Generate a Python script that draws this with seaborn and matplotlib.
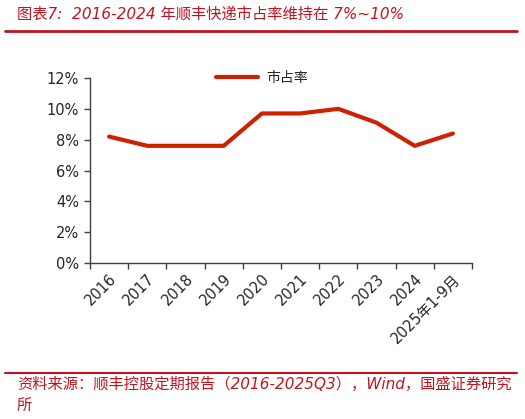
import matplotlib
matplotlib.use("Agg")
import matplotlib.pyplot as plt
from matplotlib.lines import Line2D
from matplotlib.ticker import FixedLocator, PercentFormatter
import pandas as pd
import seaborn as sns

# Datos
years = ["2016", "2017", "2018", "2019", "2020", "2021", "2022", "2023", "2024", "2025年1-9月"]
share = [8.2, 7.6, 7.6, 7.6, 9.7, 9.7, 10.0, 9.1, 7.6, 8.4]
series_name = "市占率"
title = "图表7:  2016-2024 年顺丰快递市占率维持在 7%~10%"
source = "资料来源：顺丰控股定期报告（2016-2025Q3），Wind，国盛证券研究\n所"

df = pd.DataFrame({"year": years, series_name: share})

sns.set_style("white")
plt.rcParams["font.family"] = ["DejaVu Sans", "Noto Sans CJK SC"]

red = "#C0141E"
line_color = "#CC2200"

fig = plt.figure(figsize=(5.25, 4.19), dpi=100)
ax = fig.add_axes([90 / 525, 1 - 263 / 419, (472 - 90) / 525, (263 - 78) / 419])

sns.lineplot(data=df, x="year", y=series_name, ax=ax, color=line_color,
             linewidth=3.0, sort=False, label=series_name)

ax.set_ylim(0, 12)
ax.set_xlim(-0.5, len(years) - 0.5)
ax.set_yticks(range(0, 13, 2))
ax.yaxis.set_major_formatter(PercentFormatter(decimals=0))
ax.set_xlabel("")
ax.set_ylabel("")

# ticks entre categorías
ax.xaxis.set_minor_locator(FixedLocator([i - 0.5 for i in range(len(years) + 1)]))
ax.tick_params(axis="x", which="major", length=0, pad=6, labelsize=10.5)
ax.tick_params(axis="x", which="minor", length=4, color="#404040", width=1)
ax.tick_params(axis="y", length=4, color="#404040", width=1, labelsize=10.5, pad=4)
ax.tick_params(left=True, bottom=True, which="both")
plt.setp(ax.get_xticklabels(), rotation=45, ha="right", rotation_mode="anchor")

for side in ["top", "right"]:
    ax.spines[side].set_visible(False)
for side in ["left", "bottom"]:
    ax.spines[side].set_color("#404040")
    ax.spines[side].set_linewidth(1)

ax.legend(loc="center left", bbox_to_anchor=((216 - 90) / 382, 1.0), frameon=False,
          handlelength=3.0, borderpad=0, borderaxespad=0, handletextpad=0.6,
          prop={"family": ["Noto Sans CJK SC"], "size": 10})

# título y fuente
fig.text(17 / 525, 1 - 14 / 419, title, color=red, fontsize=11, style="italic",
         va="center", ha="left", family=["DejaVu Sans", "Noto Sans CJK SC"])
fig.add_artist(Line2D([5 / 525, 517 / 525], [1 - 31 / 419, 1 - 31 / 419],
                      color=red, linewidth=2))
fig.add_artist(Line2D([5 / 525, 517 / 525], [1 - 373 / 419, 1 - 373 / 419],
                      color=red, linewidth=1.5))
fig.text(17 / 525, 1 - 377 / 419, source, color=red, fontsize=11, style="italic",
         va="top", ha="left", linespacing=1.45,
         family=["DejaVu Sans", "Noto Sans CJK SC"])

fig.savefig("out.png", dpi=100)
